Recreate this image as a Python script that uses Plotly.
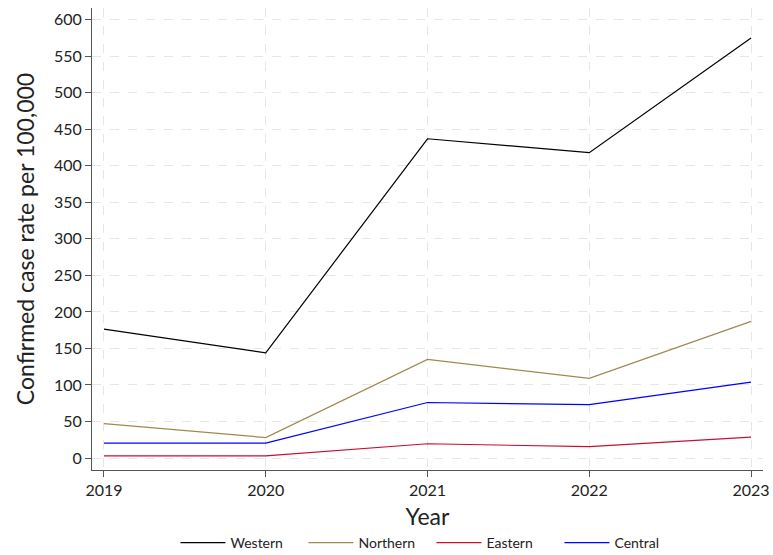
import plotly.graph_objects as go

years = [2019, 2020, 2021, 2022, 2023]
western = [176.5, 144, 437, 418, 575]
northern = [47, 28, 135, 109, 187]
eastern = [3, 3, 19.5, 15.5, 28.5]
central = [20.5, 20.5, 76, 73, 104]

series = [("Western", western, "#000000"), ("Northern", northern, "#9C8B4E"),
          ("Eastern", eastern, "#C8102E"), ("Central", central, "#0000FF")]

fig = go.Figure()
for name, vals, col in series:
    fig.add_trace(go.Scatter(x=years, y=vals, mode="lines", name=name,
                             line=dict(color=col, width=1.2)))

fig.update_layout(
    width=773, height=555,
    margin=dict(l=92, r=10, t=8, b=85, autoexpand=False),
    paper_bgcolor="white", plot_bgcolor="white",
    font=dict(family="Lato, sans-serif", color="#222222", size=16),
    showlegend=True,
    legend=dict(orientation="h", x=0.1244, xanchor="left", y=-0.158, yanchor="middle",
                font=dict(size=14), itemwidth=45, tracegroupgap=0,
                entrywidth=68, entrywidthmode="pixels"),
)
fig.update_xaxes(range=[2018.926, 2023.074], tickvals=years, ticktext=[str(y) for y in years],
                 showline=True, linecolor="#555555", linewidth=1,
                 ticks="outside", ticklen=6, tickcolor="#555555",
                 showgrid=True, gridcolor="#E6E6E6", griddash="dash", gridwidth=1,
                 zeroline=False, automargin=False,
                 title=dict(text="Year", font=dict(size=23), standoff=10))
fig.update_yaxes(range=[-16.4, 616], tickvals=list(range(0, 601, 50)),
                 showline=True, linecolor="#555555", linewidth=1,
                 ticks="outside", ticklen=6, tickcolor="#555555",
                 showgrid=True, gridcolor="#E6E6E6", griddash="dash", gridwidth=1,
                 zeroline=False, automargin=False,
                 title=dict(text="Confirmed case rate per 100,000", font=dict(size=23), standoff=12))

fig.write_html("out.html")
